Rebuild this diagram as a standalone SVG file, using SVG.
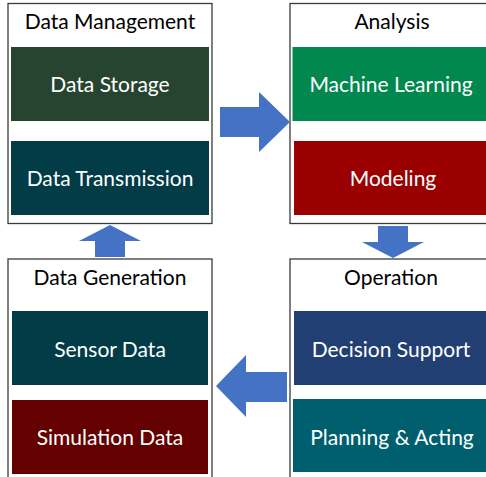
<svg xmlns="http://www.w3.org/2000/svg" width="486" height="477" viewBox="0 0 486 477">
<style>
.frame{fill:#ffffff;stroke:#3a3a3a;stroke-width:1.3}
.title{font-family:Lato,"Open Sans","Liberation Sans",sans-serif;font-size:21px;fill:#000000;text-anchor:middle;dominant-baseline:central}
.lbl{font-family:Lato,"Open Sans","Liberation Sans",sans-serif;font-size:21px;fill:#ffffff;text-anchor:middle;dominant-baseline:central}
.arrow{fill:#4472C4}
</style>
<rect width="486" height="477" fill="#ffffff"/>
<g id="data-management">
<rect class="frame" x="8" y="3.5" width="204" height="220"/>
<text class="title" x="110" y="20">Data Management</text>
<g id="data-storage"><rect x="11" y="47" width="198" height="74" fill="#264430"/><text class="lbl" x="110" y="83">Data Storage</text></g>
<g id="data-transmission"><rect x="11" y="141" width="198" height="74" fill="#013c47"/><text class="lbl" x="110" y="177">Data Transmission</text></g>
</g>
<g id="analysis">
<rect class="frame" x="290" y="3.5" width="200" height="220"/>
<text class="title" x="392" y="20">Analysis</text>
<g id="machine-learning"><rect x="292.5" y="47" width="194" height="74" fill="#00884f"/><text class="lbl" x="391" y="83">Machine Learning</text></g>
<g id="modeling"><rect x="294" y="141" width="192" height="74" fill="#9a0000"/><text class="lbl" x="393" y="177">Modeling</text></g>
</g>
<g id="operation">
<rect class="frame" x="290" y="259" width="200" height="222"/>
<text class="title" x="391" y="276">Operation</text>
<g id="decision-support"><rect x="294" y="311" width="192" height="74" fill="#213f73"/><text class="lbl" x="391" y="348">Decision Support</text></g>
<g id="planning-acting"><rect x="293" y="399" width="193" height="73" fill="#005f6e"/><text class="lbl" x="392" y="436">Planning &amp; Acting</text></g>
</g>
<g id="data-generation">
<rect class="frame" x="8" y="259" width="204" height="222"/>
<text class="title" x="110" y="276">Data Generation</text>
<g id="sensor-data"><rect x="12" y="311" width="196" height="74" fill="#013c47"/><text class="lbl" x="110" y="348">Sensor Data</text></g>
<g id="simulation-data"><rect x="12" y="400" width="196" height="74" fill="#650000"/><text class="lbl" x="110" y="436">Simulation Data</text></g>
</g>
<g id="connectors">
<polygon class="arrow" points="220,107 259,107 259,92 290,122 259,152 259,137 220,137"/>
<polygon class="arrow" points="378,226 408,226 408,242 424,242 393,258 362,242 378,242"/>
<polygon class="arrow" points="287,372 246,372 246,355 216,386 246,417 246,402 287,402"/>
<polygon class="arrow" points="95,257 95,241 79,241 110,225 141,241 125,241 125,257"/>
</g>
</svg>
